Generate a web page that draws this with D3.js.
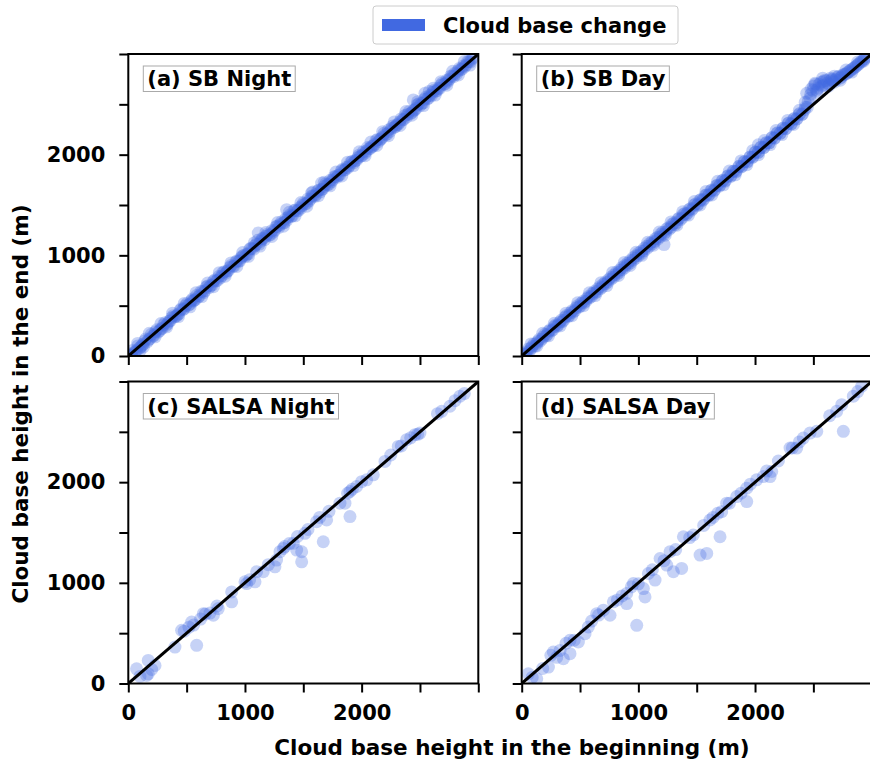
<!DOCTYPE html>
<html>
<head>
<meta charset="utf-8">
<script src="https://cdn.jsdelivr.net/npm/d3@7"></script>
<style>
  body { margin: 0; background: #fff; }
  svg { display: block; font-family: "DejaVu Sans", sans-serif; }
</style>
</head>
<body>
<div id="chart"></div>
<script>
// Cloud base height: beginning vs end, four cases
const panelTitles = ['(a) SB Night', '(b) SB Day', '(c) SALSA Night', '(d) SALSA Day'];
const legendLabel = 'Cloud base change';
const xTitle = 'Cloud base height in the beginning (m)';
const yTitle = 'Cloud base height in the end (m)';
const tickValues = [0, 500, 1000, 1500, 2000, 2500, 3000];
const tickLabels = ['0', '', '1000', '', '2000', '', ''];

const sbNightBegin = [25, 48, 70, 95, 100, 118, 140, 162, 185, 210, 232, 255, 280, 302, 325, 350, 372, 395, 420, 445,
  468, 490, 515, 540, 557, 562, 585, 610, 635, 658, 680, 705, 730, 752, 775, 800, 825, 848, 870, 895,
  920, 945, 968, 990, 1015, 1040, 1062, 1085, 1110, 1114, 1135, 1158, 1180, 1205, 1230, 1255, 1278, 1300, 1325, 1350,
  1357, 1372, 1395, 1420, 1445, 1468, 1490, 1515, 1540, 1562, 1571, 1585, 1610, 1635, 1657, 1658, 1680, 1705, 1730, 1752,
  1775, 1800, 1825, 1848, 1870, 1895, 1920, 1945, 1968, 1990, 2015, 2040, 2062, 2085, 2110, 2135, 2158, 2180, 2205, 2230,
  2255, 2278, 2300, 2325, 2350, 2372, 2395, 2420, 2443, 2445, 2468, 2490, 2515, 2540, 2543, 2562, 2585, 2610, 2614, 2635,
  2658, 2680, 2705, 2730, 2752, 2775, 2800, 2825, 2848, 2870, 2895, 2920, 2945];
const sbNightEnd = [10, 30, 55, 78, 50, 105, 150, 140, 172, 198, 240, 238, 268, 310, 305, 345, 380, 388, 405, 455,
  460, 498, 505, 548, 545, 555, 600, 598, 640, 650, 695, 700, 742, 745, 790, 795, 838, 842, 880, 890,
  935, 940, 975, 1000, 1010, 1060, 1068, 1095, 1150, 1222, 1140, 1170, 1190, 1200, 1245, 1250, 1290, 1305, 1320, 1365,
  1454, 1380, 1385, 1445, 1440, 1475, 1495, 1510, 1560, 1560, 1619, 1590, 1605, 1650, 1718, 1655, 1685, 1700, 1745, 1750,
  1780, 1795, 1840, 1845, 1875, 1890, 1935, 1940, 1970, 1985, 2030, 2035, 2060, 2080, 2100, 2150, 2150, 2175, 2200, 2245,
  2260, 2270, 2295, 2320, 2345, 2390, 2400, 2410, 2544, 2440, 2460, 2505, 2510, 2550, 2610, 2555, 2590, 2620, 2660, 2630,
  2660, 2690, 2700, 2740, 2750, 2780, 2810, 2830, 2845, 2880, 2890, 2925, 2950];
const sbNightBeginB = [12, 36, 58, 82, 106, 128, 150, 174, 198, 220, 244, 268, 290, 314, 338, 360, 384, 408, 432, 456,
  478, 502, 528, 550, 574, 598, 622, 646, 668, 692, 718, 740, 764, 788, 812, 836, 858, 882, 908, 932,
  956, 978, 1002, 1028, 1050, 1074, 1098, 1122, 1146, 1168, 1192, 1218, 1242, 1266, 1290, 1312, 1338, 1360, 1384, 1408,
  1432, 1456, 1478, 1502, 1528, 1550, 1574, 1598, 1622, 1646, 1668, 1692, 1718, 1740, 1764, 1788, 1812, 1836, 1860, 1882,
  1908, 1932, 1956, 1978, 2002, 2028, 2050, 2074, 2098, 2122, 2146, 2168, 2192, 2218, 2242, 2266, 2290, 2312, 2338, 2360,
  2384, 2408, 2432, 2456, 2478, 2502, 2528, 2550, 2574, 2598, 2622, 2646, 2668, 2692, 2718, 2740, 2764, 2788, 2812, 2836,
  2860, 2882, 2908, 2932, 2958];
const sbNightEndB = [20, 55, 40, 100, 90, 118, 170, 160, 215, 205, 260, 250, 275, 330, 325, 350, 400, 395, 420, 470,
  470, 520, 515, 565, 560, 585, 640, 630, 685, 680, 705, 755, 750, 775, 830, 822, 850, 900, 895, 945,
  945, 992, 990, 1015, 1070, 1060, 1110, 1112, 1165, 1155, 1210, 1205, 1230, 1285, 1278, 1330, 1325, 1350, 1400, 1395,
  1450, 1445, 1465, 1520, 1515, 1540, 1590, 1585, 1640, 1630, 1660, 1710, 1705, 1730, 1780, 1775, 1800, 1855, 1850, 1870,
  1925, 1920, 1945, 1995, 1990, 2015, 2070, 2062, 2085, 2140, 2132, 2160, 2212, 2205, 2230, 2285, 2278, 2300, 2355, 2350,
  2372, 2428, 2420, 2445, 2495, 2490, 2515, 2570, 2562, 2585, 2640, 2635, 2658, 2712, 2705, 2730, 2782, 2775, 2800, 2855,
  2850, 2872, 2925, 2920, 2965];
const sbNightBeginC = [30, 80, 130, 180, 230, 280, 330, 380, 430, 480, 530, 580, 630, 680, 730, 780, 830, 880, 930, 980,
  1030, 1080, 1130, 1180, 1230, 1280, 1330, 1380, 1430, 1480, 1530, 1580, 1630, 1680, 1730, 1780, 1830, 1880, 1930, 1980,
  2030, 2080, 2130, 2180, 2230, 2280, 2330, 2380, 2430, 2480, 2530, 2580, 2630, 2680, 2730, 2780, 2830, 2880, 2930];
const sbNightEndC = [5, 125, 90, 225, 190, 322, 290, 425, 392, 522, 488, 628, 590, 725, 688, 828, 792, 925, 890, 1028,
  990, 1125, 1092, 1228, 1188, 1325, 1290, 1428, 1392, 1525, 1488, 1628, 1592, 1725, 1690, 1828, 1788, 1925, 1892, 2028,
  1990, 2125, 2092, 2228, 2188, 2325, 2290, 2428, 2392, 2525, 2488, 2628, 2592, 2725, 2690, 2828, 2792, 2925, 2890];

const sbDayBegin = [20, 45, 68, 90, 115, 138, 160, 185, 208, 230, 255, 278, 300, 325, 348, 370, 395, 418, 440, 465,
  488, 510, 535, 558, 580, 605, 628, 650, 675, 698, 720, 745, 768, 790, 815, 838, 860, 885, 908, 930,
  955, 978, 1000, 1025, 1048, 1070, 1095, 1118, 1140, 1165, 1188, 1210, 1220, 1235, 1258, 1280, 1305, 1328, 1350, 1375,
  1398, 1420, 1445, 1468, 1490, 1515, 1538, 1560, 1585, 1608, 1630, 1655, 1678, 1700, 1725, 1748, 1770, 1795, 1818, 1840,
  1865, 1888, 1910, 1935, 1958, 1980, 2005, 2028, 2028, 2050, 2075, 2098, 2120, 2145, 2168, 2190, 2215, 2238, 2260, 2285,
  2308, 2330, 2355, 2378, 2400, 2425, 2443, 2448, 2470, 2495, 2514, 2518, 2540, 2565, 2586, 2588, 2610, 2635, 2657, 2658,
  2680, 2705, 2728, 2750, 2775, 2798, 2820, 2845, 2868, 2890, 2915, 2940];
const sbDayEnd = [15, 25, 50, 95, 100, 145, 150, 190, 200, 245, 250, 290, 295, 335, 340, 385, 390, 430, 435, 478,
  485, 525, 530, 570, 578, 620, 625, 665, 670, 712, 718, 760, 765, 805, 812, 852, 858, 900, 905, 948,
  952, 995, 998, 1040, 1045, 1090, 1092, 1135, 1138, 1180, 1185, 1230, 1107, 1232, 1275, 1278, 1320, 1325, 1370, 1372,
  1415, 1418, 1462, 1465, 1510, 1512, 1555, 1558, 1600, 1605, 1650, 1652, 1695, 1698, 1745, 1745, 1790, 1792, 1835, 1838,
  1885, 1885, 1930, 1932, 1975, 1978, 2025, 2025, 2098, 2072, 2072, 2115, 2118, 2168, 2165, 2212, 2212, 2260, 2258, 2310,
  2305, 2352, 2352, 2400, 2398, 2448, 2610, 2470, 2560, 2640, 2709, 2700, 2660, 2720, 2726, 2690, 2735, 2700, 2742, 2750,
  2720, 2770, 2760, 2790, 2800, 2820, 2840, 2860, 2880, 2905, 2930, 2955];
const sbDayBeginB = [12, 36, 58, 82, 106, 128, 150, 174, 198, 220, 244, 268, 290, 314, 338, 360, 384, 408, 432, 456,
  478, 502, 528, 550, 574, 598, 622, 646, 668, 692, 718, 740, 764, 788, 812, 836, 858, 882, 908, 932,
  956, 978, 1002, 1028, 1050, 1074, 1098, 1122, 1146, 1168, 1192, 1218, 1242, 1266, 1290, 1312, 1338, 1360, 1384, 1408,
  1432, 1456, 1478, 1502, 1528, 1550, 1574, 1598, 1622, 1646, 1668, 1692, 1718, 1740, 1764, 1788, 1812, 1836, 1860, 1882,
  1908, 1932, 1956, 1978, 2002, 2028, 2050, 2074, 2098, 2122, 2146, 2168, 2192, 2218, 2242, 2266, 2290, 2312, 2338, 2360,
  2384, 2408, 2432, 2456, 2478, 2502, 2528, 2550, 2574, 2598, 2622, 2646, 2668, 2692, 2718, 2740, 2764, 2788, 2812, 2836,
  2860, 2882, 2908, 2932, 2958];
const sbDayEndB = [25, 40, 70, 78, 120, 125, 165, 170, 215, 215, 260, 262, 308, 310, 355, 355, 402, 402, 450, 450,
  498, 495, 545, 545, 592, 592, 640, 640, 688, 686, 735, 735, 782, 782, 832, 830, 878, 876, 925, 926,
  975, 972, 1022, 1020, 1070, 1068, 1118, 1115, 1165, 1162, 1212, 1210, 1262, 1260, 1310, 1306, 1358, 1355, 1405, 1402,
  1452, 1450, 1500, 1496, 1548, 1545, 1596, 1592, 1642, 1640, 1690, 1686, 1740, 1735, 1786, 1782, 1835, 1830, 1882, 1878,
  1930, 1926, 1978, 1974, 2025, 2022, 2074, 2070, 2122, 2118, 2170, 2165, 2218, 2214, 2266, 2262, 2315, 2308, 2362, 2358,
  2410, 2405, 2470, 2530, 2600, 2680, 2640, 2700, 2680, 2740, 2710, 2760, 2730, 2745, 2780, 2770, 2800, 2810, 2830, 2850,
  2872, 2895, 2920, 2945, 2975];
const sbDayBeginC = [30, 80, 130, 180, 230, 280, 330, 380, 430, 480, 530, 580, 630, 680, 730, 780, 830, 880, 930, 980,
  1030, 1080, 1130, 1180, 1230, 1280, 1330, 1380, 1430, 1480, 1530, 1580, 1630, 1680, 1730, 1780, 1830, 1880, 1930, 1980,
  2030, 2080, 2130, 2180, 2230, 2280, 2330, 2380, 2430, 2480, 2530, 2580, 2630, 2680, 2730, 2780, 2830, 2880, 2930];
const sbDayEndC = [10, 120, 100, 225, 200, 325, 300, 425, 400, 528, 500, 628, 600, 728, 700, 830, 800, 930, 900, 1030,
  1000, 1130, 1100, 1232, 1200, 1332, 1300, 1432, 1400, 1535, 1500, 1635, 1600, 1735, 1700, 1838, 1800, 1938, 1900, 2040,
  2000, 2140, 2100, 2240, 2200, 2340, 2300, 2440, 2520, 2650, 2620, 2760, 2680, 2780, 2740, 2840, 2820, 2920, 2930];

const salsaNightBegin = [71, 157, 171, 171, 229, 400, 457, 543, 586, 643, 729, 771, 886, 886, 1014, 1086, 1157, 1257, 1271, 1329,
  1414, 1443, 1486, 1486, 1514, 1614, 1671, 1700, 1814, 1857, 1900, 1900, 1957, 2043, 2100, 2200, 2314, 2386, 2457, 2500,
  2686, 2757, 2843,
  100, 200, 480, 520, 560, 620, 660, 700, 760, 1000, 1040, 1100, 1200, 1300, 1340, 1380, 1450, 1540, 1640, 1720,
  1880, 1920, 2000, 2250, 2340, 2420, 2480, 2650, 2800, 2880];
const salsaNightEnd = [146, 80, 229, 96, 179, 362, 528, 611, 379, 694, 678, 744, 811, 910, 993, 1010, 1110, 1159, 1226, 1342,
  1392, 1325, 1309, 1209, 1492, 1608, 1408, 1625, 1791, 1791, 1658, 1907, 1957, 2023, 2073, 2206, 2355, 2422, 2472, 2488,
  2704, 2754, 2854,
  70, 140, 520, 560, 580, 640, 690, 700, 770, 1010, 1030, 1110, 1180, 1310, 1360, 1390, 1460, 1530, 1650, 1710,
  1890, 1930, 2005, 2270, 2360, 2440, 2475, 2680, 2810, 2880];

const salsaDayBegin = [57, 129, 229, 271, 329, 357, 414, 414, 486, 543, 571, 643, 700, 757, 786, 900, 900, 957, 986, 1043,
  1057, 1086, 1143, 1186, 1243, 1271, 1300, 1371, 1386, 1471, 1529, 1586, 1614, 1700, 1714, 1757, 1843, 1929, 1929, 2014,
  2071, 2129, 2143, 2300, 2357, 2414, 2471, 2529, 2757, 2700, 2743, 2843, 2914,
  90, 180, 250, 300, 380, 450, 600, 660, 820, 860, 940, 1000, 1120, 1220, 1320, 1440, 1560, 1640, 1680, 1780,
  1880, 1960, 2100, 2200, 2320, 2380, 2640, 2880];
const salsaDayEnd = [96, 47, 163, 312, 329, 246, 296, 429, 412, 495, 561, 694, 728, 678, 811, 794, 894, 993, 578, 943,
  860, 1093, 1027, 1242, 1176, 1309, 1110, 1143, 1458, 1475, 1276, 1292, 1624, 1458, 1707, 1791, 1857, 1807, 1940, 2023,
  2056, 2056, 2106, 2339, 2339, 2438, 2488, 2505, 2505, 2704, 2770, 2854, 2953,
  60, 150, 280, 260, 400, 430, 620, 680, 830, 870, 960, 990, 1130, 1220, 1330, 1450, 1570, 1650, 1690, 1790,
  1890, 1980, 2110, 2210, 2340, 2400, 2660, 2900];

const panels = [
  { title: panelTitles[0], begin: sbNightBegin.concat(sbNightBeginB, sbNightBeginC), end: sbNightEnd.concat(sbNightEndB, sbNightEndC), col: 0, row: 0 },
  { title: panelTitles[1], begin: sbDayBegin.concat(sbDayBeginB, sbDayBeginC), end: sbDayEnd.concat(sbDayEndB, sbDayEndC), col: 1, row: 0 },
  { title: panelTitles[2], begin: salsaNightBegin, end: salsaNightEnd, col: 0, row: 1 },
  { title: panelTitles[3], begin: salsaDayBegin, end: salsaDayEnd, col: 1, row: 1 }
];

const W = 870, H = 768;
const colX = [128.3, 521.7], rowY = [54, 381.5];
const pw = 350, ph = 302;
const blue = '#4169e1';

const svg = d3.select('#chart').append('svg')
  .attr('width', W).attr('height', H);

const x = d3.scaleLinear().domain([0, 3000]).range([0, pw]);
const y = d3.scaleLinear().domain([0, 3000]).range([ph, 0]);

svg.append('defs').append('clipPath').attr('id', 'clip')
  .append('rect').attr('width', pw).attr('height', ph);

panels.forEach(p => {
  const g = svg.append('g')
    .attr('transform', `translate(${colX[p.col]},${rowY[p.row]})`);

  const plot = g.append('g').attr('clip-path', 'url(#clip)');

  // points
  plot.selectAll('circle')
    .data(p.begin.map((b, i) => [b, p.end[i]]))
    .join('circle')
    .attr('cx', d => x(d[0]))
    .attr('cy', d => y(d[1]))
    .attr('r', 6.5)
    .attr('fill', blue)
    .attr('fill-opacity', 0.3);

  // 1:1 line
  plot.append('line')
    .attr('x1', x(0)).attr('y1', y(0))
    .attr('x2', x(3000)).attr('y2', y(3000))
    .attr('stroke', '#000').attr('stroke-width', 3);

  // axes
  const xAxis = d3.axisBottom(x).tickValues(tickValues).tickSize(9).tickPadding(6)
    .tickFormat((d, i) => p.row === 1 ? tickLabels[i] : '');
  const yAxis = d3.axisLeft(y).tickValues(tickValues).tickSize(9).tickPadding(14)
    .tickFormat((d, i) => p.col === 0 ? tickLabels[i] : '');

  const gx = g.append('g').attr('transform', `translate(0,${ph})`).call(xAxis);
  const gy = g.append('g').call(yAxis);
  [gx, gy].forEach(a => {
    a.select('.domain').remove();
    a.selectAll('.tick line').attr('stroke', '#000').attr('stroke-width', 2);
    a.selectAll('.tick text')
      .attr('fill', '#000')
      .style('font-size', '21px')
      .style('font-weight', 'bold')
      .style('font-family', '"DejaVu Sans", sans-serif');
  });
  gx.selectAll('.tick text').attr('dy', '1.0em');

  // frame
  g.append('rect')
    .attr('width', pw).attr('height', ph)
    .attr('fill', 'none').attr('stroke', '#000').attr('stroke-width', 2);

  // panel label
  const lab = g.append('g').attr('transform', 'translate(15,12)');
  const t = lab.append('text')
    .attr('x', 4).attr('y', 20)
    .style('font-size', '21px').style('font-weight', 'bold')
    .text(p.title);
  const tw = t.node().getComputedTextLength();
  lab.insert('rect', 'text')
    .attr('width', tw + 8).attr('height', 25.5)
    .attr('fill', '#fff').attr('stroke', '#aaa').attr('stroke-width', 1);
});

// legend
const leg = svg.append('g').attr('transform', 'translate(373,6)');
leg.append('rect')
  .attr('width', 305).attr('height', 38).attr('rx', 3)
  .attr('fill', '#fff').attr('stroke', '#ccc').attr('stroke-width', 1);
leg.append('rect')
  .attr('x', 9).attr('y', 13).attr('width', 43).attr('height', 12)
  .attr('fill', blue);
leg.append('text')
  .attr('x', 70).attr('y', 26.5)
  .style('font-size', '21px').style('font-weight', 'bold')
  .text(legendLabel);

// axis titles
svg.append('text')
  .attr('x', 512).attr('y', 755)
  .attr('text-anchor', 'middle')
  .style('font-size', '21.5px').style('font-weight', 'bold')
  .text(xTitle);
svg.append('text')
  .attr('transform', 'translate(28,404) rotate(-90)')
  .attr('text-anchor', 'middle')
  .style('font-size', '21.5px').style('font-weight', 'bold')
  .text(yTitle);
</script>
</body>
</html>
